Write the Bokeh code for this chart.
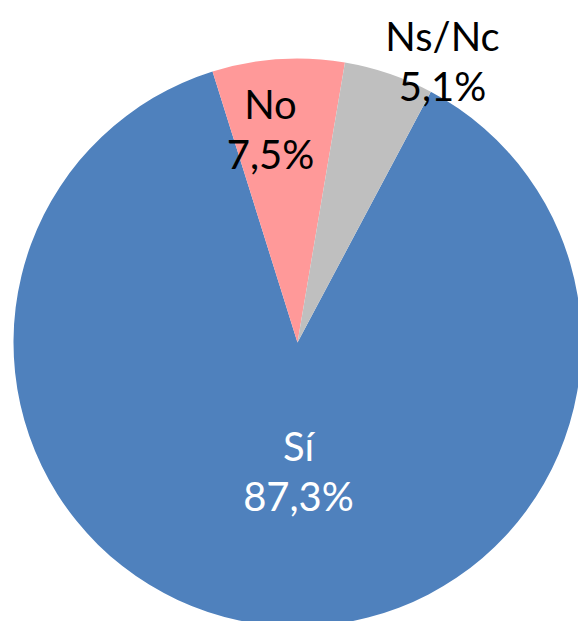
import math
from bokeh.plotting import figure
from bokeh.models import Range1d, ColumnDataSource
from bokeh.core.properties import value
from bokeh.embed import file_html
from bokeh.resources import INLINE

# Data
categories = ["Sí", "No", "Ns/Nc"]
values = [87.3, 7.5, 5.1]
pct_labels = ["87,3%", "7,5%", "5,1%"]
colors = ["#4F81BD", "#FF9999", "#BFBFBF"]
text_colors = ["#FFFFFF", "#000000", "#000000"]

# Layout (pixel space, y downward negated)
W, H = 578, 621
cx, cy, R = 297, -342, 284
first_angle_deg = 28  # clockwise from 12 o'clock
label_pos = [(298, -445), (270, -103), (442, -35)]  # name line centers
line_gap = 50

total = sum(values)
starts, ends = [], []
acc = first_angle_deg
for v in values:
    a0 = acc
    a1 = acc + v / total * 360.0
    starts.append(math.radians(90 - a0))
    ends.append(math.radians(90 - a1))
    acc = a1

src = ColumnDataSource(dict(x=[cx] * 3, y=[cy] * 3, start=starts, end=ends, color=colors))

p = figure(width=W, height=H, output_backend="svg", toolbar_location=None,
           x_range=Range1d(0, W), y_range=Range1d(-H, 0), min_border=0)
p.axis.visible = False
p.grid.visible = False
p.outline_line_color = None
p.background_fill_color = "white"

p.wedge(x="x", y="y", radius=R, start_angle="start", end_angle="end",
        direction="clock", fill_color="color", line_color=None, source=src)

lsrc = ColumnDataSource(dict(
    x=[pt[0] for pt in label_pos],
    y1=[pt[1] for pt in label_pos],
    y2=[pt[1] - line_gap for pt in label_pos],
    name=categories, pct=pct_labels, tc=text_colors))

for ycol, tcol in (("y1", "name"), ("y2", "pct")):
    p.text(x="x", y=ycol, text=tcol, source=lsrc, text_color="tc",
           text_align="center", text_baseline="middle",
           text_font=value("Lato"), text_font_size="40px")

open("out.html", "w").write(file_html(p, INLINE))
